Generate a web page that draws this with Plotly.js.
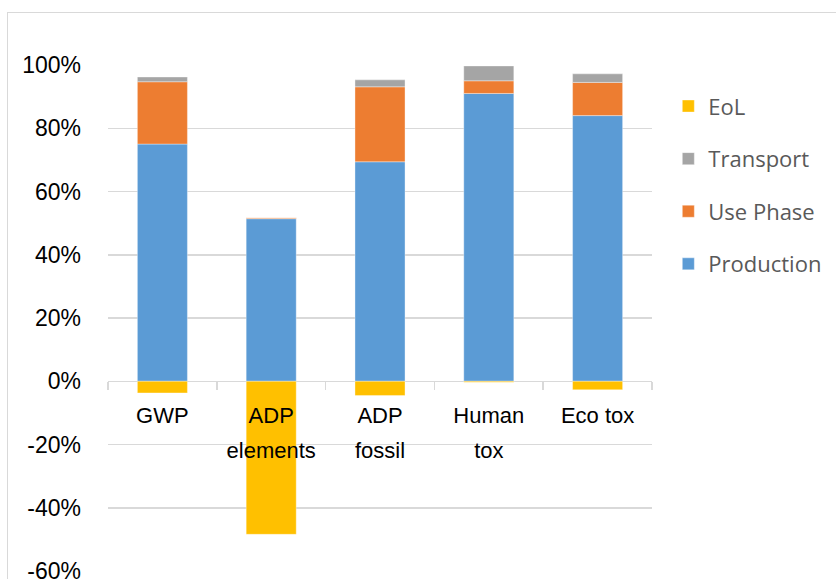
<!DOCTYPE html>
<html>
<head>
<meta charset="utf-8">
<script src="https://cdn.plot.ly/plotly-3.0.1.min.js"></script>
<style>
html,body{margin:0;padding:0;background:#fff;overflow:hidden;}
#frame{position:absolute;left:7px;top:12px;width:900px;height:700px;border:1px solid #d9d9d9;box-sizing:border-box;}
#chart{position:absolute;left:0;top:0;width:836px;height:579px;}
</style>
</head>
<body>
<div id="frame"></div>
<div id="chart"></div>
<script>
const categories = ["GWP", "ADP elements", "ADP fossil", "Human tox", "Eco tox"];
const tickLabels = ["GWP", "ADP<br>elements", "ADP<br>fossil", "Human<br>tox", "Eco tox"];
const production = [75.0, 51.4, 69.4, 91.0, 84.0];
const usePhase = [19.7, 0.3, 23.7, 4.0, 10.5];
const transport = [1.5, 0.0, 2.2, 4.7, 2.7];
const eol = [-3.7, -48.4, -4.5, -0.3, -2.7];
const seriesNames = ["Production", "Use Phase", "Transport", "EoL"];
const seriesColors = ["#5B9BD5", "#ED7D31", "#A5A5A5", "#FFC000"];
const seriesValues = [production, usePhase, transport, eol];
const legendRanks = [4, 3, 2, 1];
const yTickValues = [-60, -40, -20, 0, 20, 40, 60, 80, 100];
const yTickLabels = ["-60%", "-40%", "-20%", "0%", "20%", "40%", "60%", "80%", "100%"];

const traces = seriesValues.map((vals, i) => ({
  type: "bar",
  name: seriesNames[i],
  x: categories,
  y: vals,
  legendgroup: "g" + i,
  legendrank: legendRanks[i],
  marker: {color: seriesColors[i], line: {width: 0.6, color: "rgba(255,255,255,0.6)"}},
  hoverinfo: "skip"
}));

const layout = {
  width: 836, height: 579,
  margin: {l: 108, r: 184, t: 65, b: 8},
  paper_bgcolor: "rgba(0,0,0,0)",
  plot_bgcolor: "rgba(0,0,0,0)",
  barmode: "relative",
  bargap: 0.54,
  font: {family: "Liberation Sans, Arial, sans-serif", size: 22, color: "#000"},
  xaxis: {
    type: "category",
    tickvals: categories,
    ticktext: tickLabels.map(t => '<span style="font-size:22px">' + t + '</span>'),
    anchor: "free",
    position: 0.375,
    showline: false,
    showgrid: false,
    ticks: "outside",
    tickson: "boundaries",
    ticklen: 8,
    tickwidth: 1.5,
    tickcolor: "#d9d9d9",
    ticklabelstandoff: 14,
    tickfont: {size: 27, color: "#000"},
    fixedrange: true
  },
  yaxis: {
    range: [-60, 100],
    tickmode: "array",
    tickvals: yTickValues,
    ticktext: yTickLabels,
    ticklabeloverflow: "allow",
    showgrid: true,
    gridcolor: "#d9d9d9",
    gridwidth: 1.5,
    zeroline: true,
    zerolinecolor: "#d9d9d9",
    zerolinewidth: 1.5,
    showline: false,
    ticks: "",
    ticklabelstandoff: 26,
    tickfont: {size: 23, color: "#000"},
    fixedrange: true
  },
  showlegend: true,
  legend: {
    x: 1.03, xanchor: "left",
    y: 0.96, yanchor: "top",
    traceorder: "grouped",
    tracegroupgap: 21,
    font: {family: "Open Sans, sans-serif", size: 22, color: "#595959"},
    bgcolor: "rgba(0,0,0,0)"
  }
};

Plotly.newPlot("chart", traces, layout, {staticPlot: true});
</script>
</body>
</html>
